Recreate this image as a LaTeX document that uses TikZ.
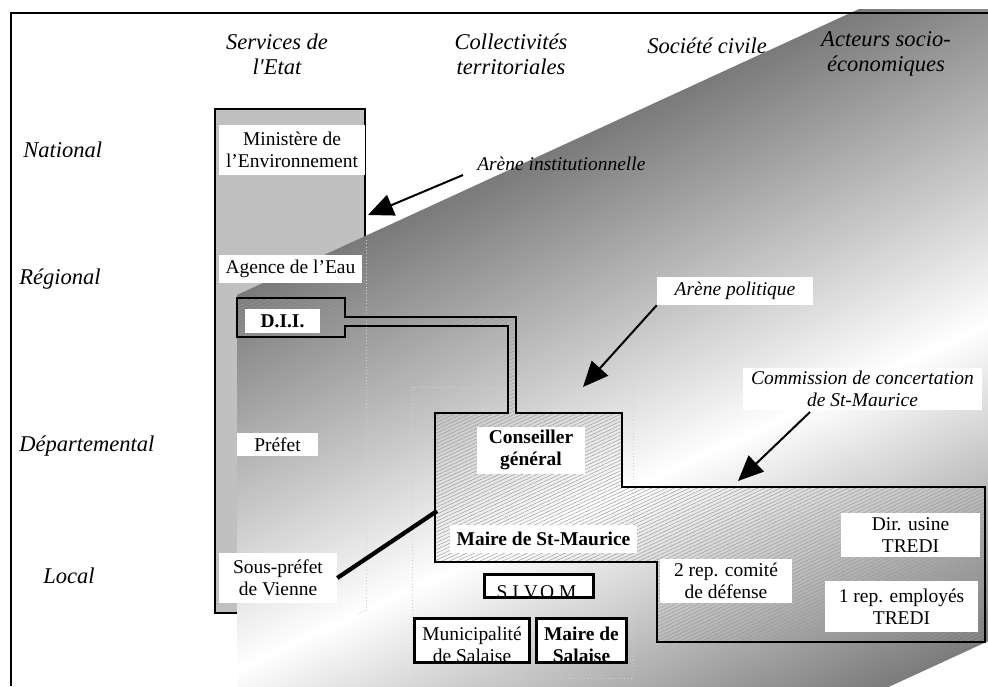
\documentclass[tikz,border=0pt]{standalone}
\usepackage{fontspec}
\setmainfont{Liberation Serif}[Ligatures=TeXOff]
\usetikzlibrary{patterns.meta,arrows.meta}
\definecolor{colgray}{RGB}{192,192,192}
\definecolor{gdark}{RGB}{118,118,118}
\definecolor{gdarkb}{RGB}{122,122,122}
\newcommand\bodyfont{\fontsize{14.6}{16.5}\selectfont}
\newcommand\headfont{\fontsize{16.9}{18.75}\selectfont\itshape}
\tikzset{
  wbox/.style={fill=white, inner sep=0pt, align=center, font=\bodyfont},
  bwbox/.style={wbox, font=\bodyfont\bfseries},
  iwbox/.style={wbox, font=\bodyfont\itshape},
  framedbox/.style={draw, line width=1.4pt, fill=white, inner sep=0pt},
  btext/.style={inner sep=0pt, align=center, font=\bodyfont},
  head/.style={align=center, font=\headfont, inner sep=0pt},
  rowlab/.style={anchor=west, font=\headfont, inner sep=0pt},
  bigarrow/.style={line width=1.5pt, -{Triangle[length=19pt,width=16.5pt]}},
  faint/.style={black!18, dotted, line width=0.5pt},
  arena/.style={line width=1.4pt, pattern={Lines[angle=25,distance=2.4pt,line width=0.35pt]}, pattern color=black!40}
}
\begin{document}
\begin{tikzpicture}[x=0.75pt,y=-0.75pt]
\useasboundingbox (0,0) rectangle (988,686);
% Services de l'Etat column
\filldraw[fill=colgray, line width=1.4pt] (215,109) rectangle (365,613);
% gradient band
\begin{scope}
  \clip (237,295) -- (859,9) -- (995,9) -- (995,638) -- (882,690) -- (237,690) -- cycle;
  \begin{scope}[transform canvas={shift={(237,295)},rotate=24.69}]
    \shade[top color=gdark, bottom color=white] (-400,-10) rectangle (1100,340);
    \shade[top color=white, bottom color=gdarkb] (-400,340) rectangle (1100,630);
  \end{scope}
\end{scope}
% frame
\draw[line width=1.1pt] (11,686) -- (11,13) -- (988,13);
% faint grid remnants
\draw[faint] (366,240) -- (366,613);
\draw[faint] (412,387) rectangle (633,678);
% hatched arena
\draw[arena] (237,298) -- (345,298) -- (345,317) -- (516,317) -- (516,413) -- (622,413)
  -- (622,487) -- (985,487) -- (985,642) -- (657,642) -- (657,562) -- (435,562)
  -- (435,413) -- (508,413) -- (508,326) -- (345,326) -- (345,337) -- (237,337) -- cycle;
% headings
\node[head] (hserv) at (277,54) {Services de\\l'Etat};
\node[head] (hcoll) at (511,54) {Collectivités\\territoriales};
\node[head] (hsoc) at (707,46) {Société civile};
\node[head] (hact) at (886,54) {Acteurs socio-\\économiques};
\node[rowlab] (rnat) at (23,150) {National};
\node[rowlab] (rreg) at (19,279) {Régional};
\node[rowlab] (rdep) at (19,446) {Départemental};
\node[rowlab] (rloc) at (43,576) {Local};
% white labels
\node[wbox, minimum width=109.5pt, minimum height=37.5pt] (minis) at (292,150) {Ministère de\\l’Environnement};
\node[wbox, minimum width=107.25pt, minimum height=21pt] (agence) at (290.5,269) {Agence de l’Eau};
\node[bwbox, minimum width=56.25pt, minimum height=18pt] (dii) at (282.5,321) {D.I.I.};
\node[wbox, minimum width=60.75pt, minimum height=17.25pt] (prefet) at (277.5,444.5) {Préfet};
\node[wbox, minimum width=88.5pt, minimum height=37.5pt] (sousp) at (278,578) {Sous-préfet\\de Vienne};
\node[bwbox, minimum width=81pt, minimum height=35.25pt] (conseil) at (531,450) {Conseiller\\général};
\node[bwbox, minimum width=140.25pt, minimum height=21pt] (mairestm) at (543.5,539) {Maire de St-Maurice};
\node[wbox, minimum width=99pt, minimum height=33pt] (rep2) at (726,581) {2 rep. comité\\de défense};
\node[wbox, minimum width=104.25pt, minimum height=33pt] (dir) at (910.5,535) {Dir. usine\\TREDI};
\node[wbox, minimum width=114.75pt, minimum height=38.25pt] (rep1) at (901.5,606.5) {1 rep. employés\\TREDI};
\node[iwbox, minimum width=117pt, minimum height=21pt] (arenepol) at (735,291) {Arène politique};
\node[iwbox, minimum width=179.25pt, minimum height=31.5pt] (commis) at (862.5,389) {Commission de concertation\\de St-Maurice};
\node[anchor=base west, inner sep=0pt, font=\bodyfont\itshape] (arinst) at (477,170) {Arène institutionnelle};
% framed boxes with clipped text
\node[framedbox, minimum width=81pt, minimum height=16.5pt] (sivom) at (539,586) {};
\node[framedbox, minimum width=85.5pt, minimum height=32.25pt] (munic) at (472,640.5) {};
\node[framedbox, minimum width=66.75pt, minimum height=32.25pt] (mairesal) at (581.5,640.5) {};
\begin{scope}
  \clip (sivom.south west) rectangle (sivom.north east);
  \node[btext, anchor=base] (sivomtxt) at (539,598.5) {S.I.V.O.M.};
\end{scope}
\begin{scope}
  \clip (munic.south west) rectangle (munic.north east);
  \node[btext] (munictxt) at (472,645) {Municipalité\\de Salaise};
\end{scope}
\begin{scope}
  \clip (mairesal.south west) rectangle (mairesal.north east);
  \node[btext, font=\bodyfont\bfseries] (mairesaltxt) at (581.5,645) {Maire de\\Salaise};
\end{scope}
\draw[line width=1.4pt] (sivom.south west) rectangle (sivom.north east);
\draw[line width=1.4pt] (munic.south west) rectangle (munic.north east);
\draw[line width=1.4pt] (mairesal.south west) rectangle (mairesal.north east);
% arrows
\coordinate (s1) at (463,175);
\coordinate (t1) at (368,215);
\draw[bigarrow] (s1) -- (t1);
\coordinate (t2) at (583,387);
\draw[bigarrow] (arenepol.south west) -- (t2);
\coordinate (s3) at (810,412);
\coordinate (t3) at (738,481);
\draw[bigarrow] (s3) -- (t3);
\coordinate (e4) at (437,511);
\draw[line width=3.2pt] (sousp.east) -- (e4);
\end{tikzpicture}
\end{document}
